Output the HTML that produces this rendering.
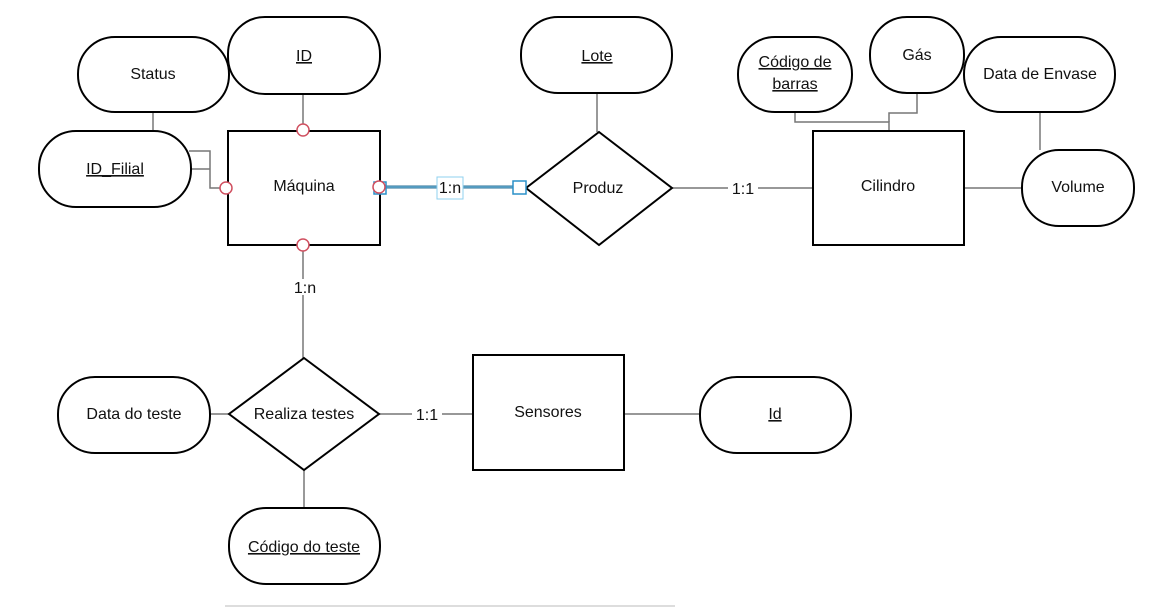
<!DOCTYPE html>
<html><head><meta charset="utf-8"><style>
html,body{margin:0;padding:0;background:#fff;}
svg{display:block;}
text{font-family:"Liberation Sans",sans-serif;font-size:16px;fill:#111;}
</style></head><body>
<svg width="1166" height="608" viewBox="0 0 1166 608" xmlns="http://www.w3.org/2000/svg">
<g stroke="#777" stroke-width="1.5" fill="none">
  <line x1="153" y1="112" x2="153" y2="131"/>
  <line x1="303" y1="94" x2="303" y2="125"/>
  <polyline points="189,151 210,151 210,188 220,188"/>
  <line x1="189" y1="169" x2="210" y2="169"/>
  <line x1="303" y1="251" x2="303" y2="358"/>
  <line x1="597" y1="93" x2="597" y2="132"/>
  <line x1="672" y1="188" x2="813" y2="188"/>
  <polyline points="795,112 795,122 889,122 889,131"/>
  <polyline points="917,93 917,113 889,113 889,122"/>
  <line x1="1040" y1="112" x2="1040" y2="150"/>
  <line x1="964" y1="188" x2="1022" y2="188"/>
  <line x1="210" y1="414" x2="229" y2="414"/>
  <line x1="379" y1="414" x2="473" y2="414"/>
  <line x1="624" y1="414" x2="700" y2="414"/>
  <line x1="304" y1="470" x2="304" y2="508"/>
</g>
<line x1="225" y1="606" x2="675" y2="606" stroke="#ddd" stroke-width="2"/>
<line x1="381" y1="187" x2="513" y2="187" stroke="#2a6f96" stroke-width="3"/>
<line x1="381" y1="187" x2="513" y2="187" stroke="#7cc4e8" stroke-width="1"/>
<g stroke="#000" stroke-width="2" fill="#fff">
  <rect x="78" y="37" width="151" height="75" rx="37"/>
  <rect x="228" y="17" width="152" height="77" rx="37"/>
  <rect x="39" y="131" width="152" height="76" rx="37"/>
  <rect x="228" y="131" width="152" height="114"/>
  <rect x="521" y="17" width="151" height="76" rx="37"/>
  <polygon points="599,132 672,188 599,245 526,188"/>
  <rect x="738" y="37" width="114" height="75" rx="37"/>
  <rect x="870" y="17" width="94" height="76" rx="37"/>
  <rect x="964" y="37" width="151" height="75" rx="37"/>
  <rect x="813" y="131" width="151" height="114"/>
  <rect x="1022" y="150" width="112" height="76" rx="37"/>
  <rect x="58" y="377" width="152" height="76" rx="37"/>
  <polygon points="304,358 379,414 304,470 229,414"/>
  <rect x="473" y="355" width="151" height="115"/>
  <rect x="700" y="377" width="151" height="76" rx="37"/>
  <rect x="229" y="508" width="151" height="76" rx="37"/>
</g>
<g stroke="#d05060" stroke-width="1.5" fill="#fff">
  <circle cx="226" cy="188" r="6"/>
  <circle cx="303" cy="130" r="6"/>
  <circle cx="303" cy="245" r="6"/>
</g>
<rect x="374" y="182" width="12" height="12" fill="none" stroke="#2a90c8" stroke-width="1.5"/>
<circle cx="379" cy="187" r="6" fill="#fff" stroke="#d05060" stroke-width="1.5"/>
<rect x="513" y="181" width="13" height="13" fill="#fff" stroke="#2a90c8" stroke-width="1.5"/>
<rect x="437" y="177" width="26" height="22" fill="#fff" stroke="#8fd0ef" stroke-width="1"/>
<text x="450" y="193" text-anchor="middle">1:n</text>
<rect x="728" y="180" width="30" height="16" fill="#fff"/>
<text x="743" y="194" text-anchor="middle">1:1</text>
<rect x="289" y="279" width="32" height="16" fill="#fff"/>
<text x="305" y="293" text-anchor="middle">1:n</text>
<rect x="412" y="406" width="30" height="16" fill="#fff"/>
<text x="427" y="420" text-anchor="middle">1:1</text>
<g text-anchor="middle">
  <text x="153" y="79">Status</text>
  <text x="304" y="61" text-decoration="underline">ID</text>
  <text x="115" y="174" text-decoration="underline">ID_Filial</text>
  <text x="304" y="191">Máquina</text>
  <text x="597" y="61" text-decoration="underline">Lote</text>
  <text x="598" y="193">Produz</text>
  <text x="795" y="67" text-decoration="underline">Código de</text>
  <text x="795" y="89" text-decoration="underline">barras</text>
  <text x="917" y="60">Gás</text>
  <text x="1040" y="79">Data de Envase</text>
  <text x="888" y="191">Cilindro</text>
  <text x="1078" y="192">Volume</text>
  <text x="134" y="419">Data do teste</text>
  <text x="304" y="419">Realiza testes</text>
  <text x="548" y="417">Sensores</text>
  <text x="775" y="419" text-decoration="underline">Id</text>
  <text x="304" y="552" text-decoration="underline">Código do teste</text>
</g>
</svg>
</body></html>
